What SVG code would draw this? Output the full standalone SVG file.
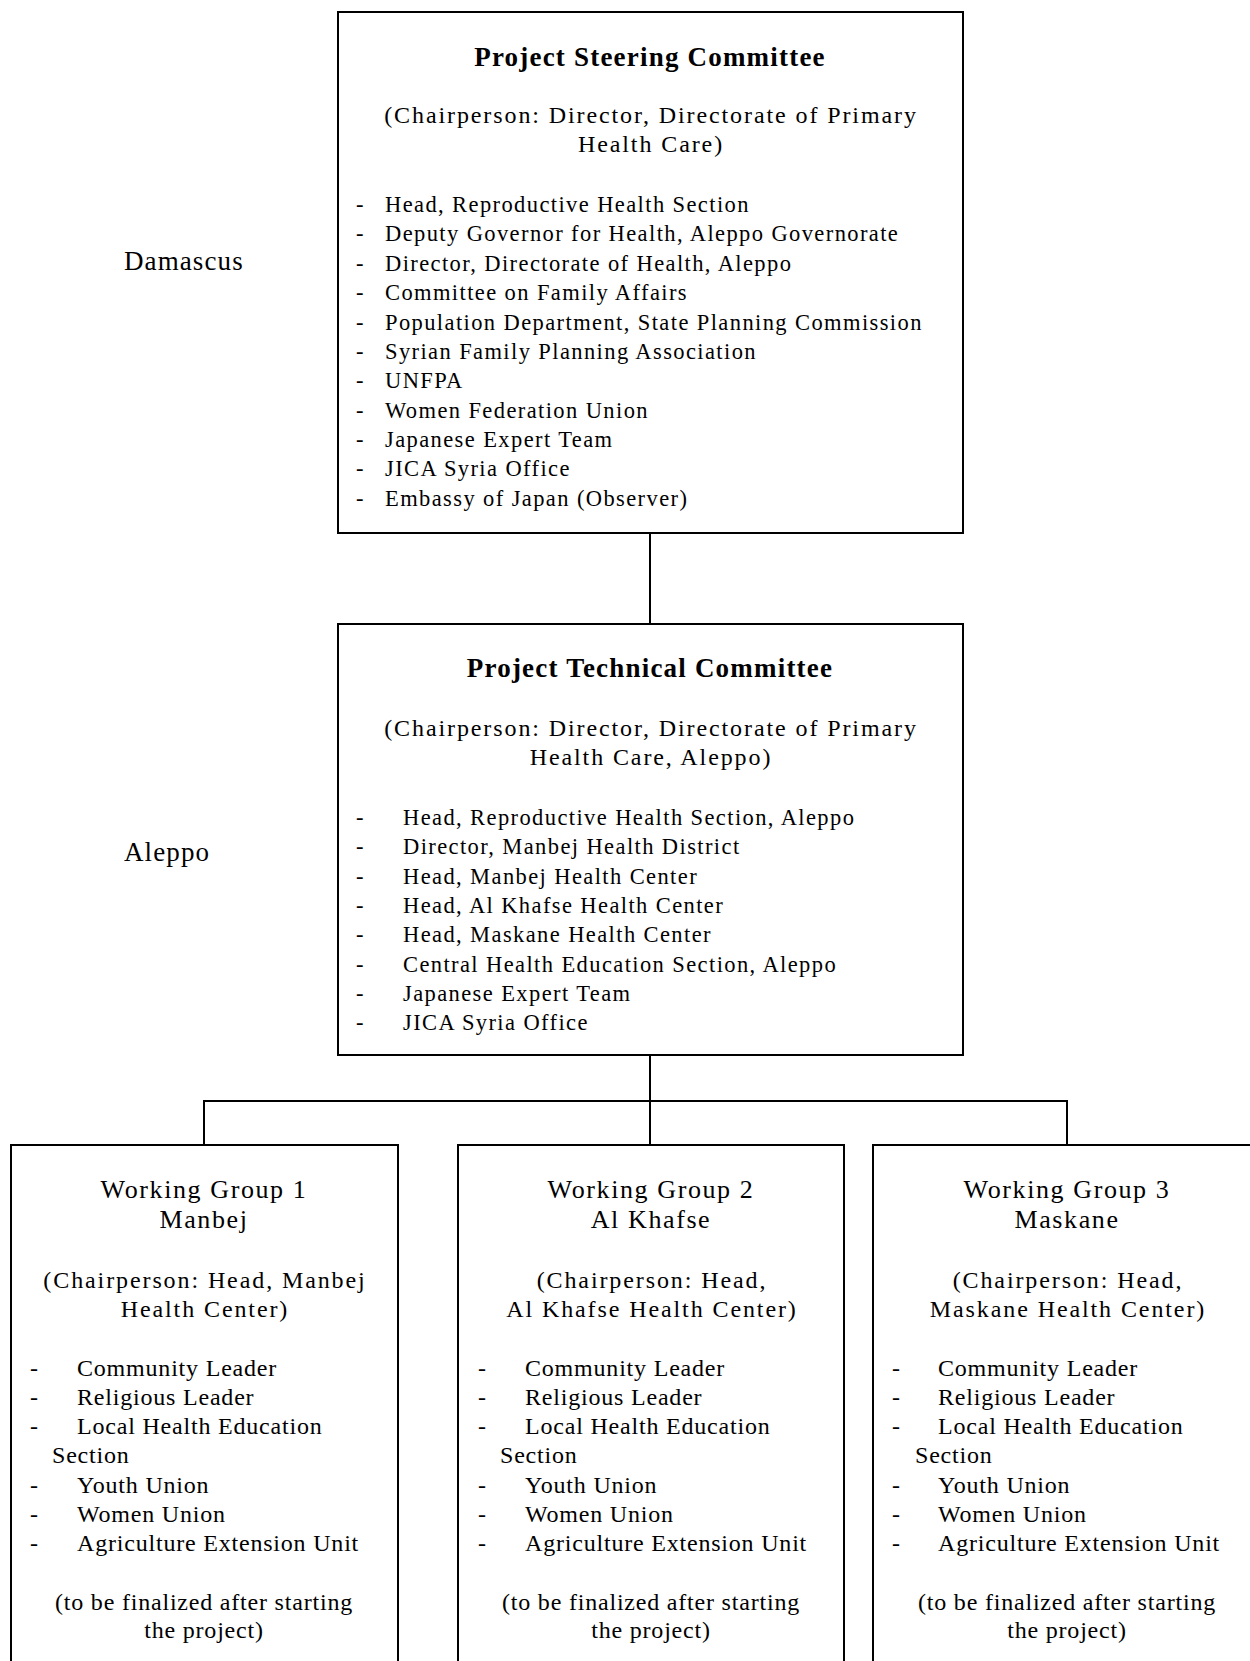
<svg xmlns="http://www.w3.org/2000/svg" width="1250" height="1661" viewBox="0 0 1250 1661">
<style>
text{font-family:"Liberation Serif","Times New Roman",serif;fill:#000}
.box{fill:#fff;stroke:#000;stroke-width:2}
.ln{stroke:#000;stroke-width:2;fill:none}
.ttl{font-size:27px;font-weight:bold;letter-spacing:1.2px;text-anchor:middle}
.ch{font-size:24px;letter-spacing:1.9px;text-anchor:middle}
.li{font-size:22.5px;letter-spacing:1.4px}
.wg{font-size:26px;letter-spacing:1.6px;text-anchor:middle}
.bl{font-size:24px;letter-spacing:0.8px}
.fin{font-size:24px;letter-spacing:0.8px;text-anchor:middle}
.loc{font-size:27px;letter-spacing:1.1px}
</style>
<rect width="1250" height="1661" fill="#fff"/>
<g id="connectors">
<line class="ln" x1="650" y1="533" x2="650" y2="624"/>
<line class="ln" x1="650" y1="1055" x2="650" y2="1145"/>
<polyline class="ln" points="204,1145 204,1101 1067,1101 1067,1145"/>
</g>
<g id="label-damascus"><text class="loc" x="124" y="270">Damascus</text></g>
<g id="label-aleppo"><text class="loc" x="124" y="861">Aleppo</text></g>
<g id="steering">
<rect class="box" x="338" y="12" width="625" height="521"/>
<text class="ttl" x="650" y="66">Project Steering Committee</text>
<text class="ch" x="651" y="123">(Chairperson: Director, Directorate of Primary</text>
<text class="ch" x="651" y="152">Health Care)</text>
<g class="li">
<text x="356" y="212">-</text><text x="385" y="212">Head, Reproductive Health Section</text>
<text x="356" y="241">-</text><text x="385" y="241">Deputy Governor for Health, Aleppo Governorate</text>
<text x="356" y="271">-</text><text x="385" y="271">Director, Directorate of Health, Aleppo</text>
<text x="356" y="300">-</text><text x="385" y="300">Committee on Family Affairs</text>
<text x="356" y="330">-</text><text x="385" y="330">Population Department, State Planning Commission</text>
<text x="356" y="359">-</text><text x="385" y="359">Syrian Family Planning Association</text>
<text x="356" y="388">-</text><text x="385" y="388">UNFPA</text>
<text x="356" y="418">-</text><text x="385" y="418">Women Federation Union</text>
<text x="356" y="447">-</text><text x="385" y="447">Japanese Expert Team</text>
<text x="356" y="476">-</text><text x="385" y="476">JICA Syria Office</text>
<text x="356" y="506">-</text><text x="385" y="506">Embassy of Japan (Observer)</text>
</g>
</g>
<g id="technical">
<rect class="box" x="338" y="624" width="625" height="431"/>
<text class="ttl" x="650" y="677">Project Technical Committee</text>
<text class="ch" x="651" y="736">(Chairperson: Director, Directorate of Primary</text>
<text class="ch" x="651" y="765">Health Care, Aleppo)</text>
<g class="li">
<text x="356" y="825">-</text><text x="403" y="825">Head, Reproductive Health Section, Aleppo</text>
<text x="356" y="854">-</text><text x="403" y="854">Director, Manbej Health District</text>
<text x="356" y="884">-</text><text x="403" y="884">Head, Manbej Health Center</text>
<text x="356" y="913">-</text><text x="403" y="913">Head, Al Khafse Health Center</text>
<text x="356" y="942">-</text><text x="403" y="942">Head, Maskane Health Center</text>
<text x="356" y="972">-</text><text x="403" y="972">Central Health Education Section, Aleppo</text>
<text x="356" y="1001">-</text><text x="403" y="1001">Japanese Expert Team</text>
<text x="356" y="1030">-</text><text x="403" y="1030">JICA Syria Office</text>
</g>
</g>
<g id="wg1">
<rect class="box" x="11" y="1145" width="387" height="530"/>
<text class="wg" x="204" y="1198">Working Group 1</text>
<text class="wg" x="204" y="1228">Manbej</text>
<text class="ch" x="205" y="1288">(Chairperson: Head, Manbej</text>
<text class="ch" x="205" y="1317">Health Center)</text>
<g class="bl">
<text x="30" y="1376">-</text><text x="77" y="1376">Community Leader</text>
<text x="30" y="1405">-</text><text x="77" y="1405">Religious Leader</text>
<text x="30" y="1434">-</text><text x="77" y="1434">Local Health Education</text>
<text x="52" y="1463">Section</text>
<text x="30" y="1493">-</text><text x="77" y="1493">Youth Union</text>
<text x="30" y="1522">-</text><text x="77" y="1522">Women Union</text>
<text x="30" y="1551">-</text><text x="77" y="1551">Agriculture Extension Unit</text>
</g>
<text class="fin" x="204" y="1610">(to be finalized after starting</text>
<text class="fin" x="204" y="1638">the project)</text>
</g>
<g id="wg2">
<rect class="box" x="458" y="1145" width="386" height="530"/>
<text class="wg" x="651" y="1198">Working Group 2</text>
<text class="wg" x="651" y="1228">Al Khafse</text>
<text class="ch" x="652" y="1288">(Chairperson: Head,</text>
<text class="ch" x="652" y="1317">Al Khafse Health Center)</text>
<g class="bl">
<text x="478" y="1376">-</text><text x="525" y="1376">Community Leader</text>
<text x="478" y="1405">-</text><text x="525" y="1405">Religious Leader</text>
<text x="478" y="1434">-</text><text x="525" y="1434">Local Health Education</text>
<text x="500" y="1463">Section</text>
<text x="478" y="1493">-</text><text x="525" y="1493">Youth Union</text>
<text x="478" y="1522">-</text><text x="525" y="1522">Women Union</text>
<text x="478" y="1551">-</text><text x="525" y="1551">Agriculture Extension Unit</text>
</g>
<text class="fin" x="651" y="1610">(to be finalized after starting</text>
<text class="fin" x="651" y="1638">the project)</text>
</g>
<g id="wg3">
<rect class="box" x="873" y="1145" width="390" height="530"/>
<text class="wg" x="1067" y="1198">Working Group 3</text>
<text class="wg" x="1067" y="1228">Maskane</text>
<text class="ch" x="1068" y="1288">(Chairperson: Head,</text>
<text class="ch" x="1068" y="1317">Maskane Health Center)</text>
<g class="bl">
<text x="892" y="1376">-</text><text x="938" y="1376">Community Leader</text>
<text x="892" y="1405">-</text><text x="938" y="1405">Religious Leader</text>
<text x="892" y="1434">-</text><text x="938" y="1434">Local Health Education</text>
<text x="915" y="1463">Section</text>
<text x="892" y="1493">-</text><text x="938" y="1493">Youth Union</text>
<text x="892" y="1522">-</text><text x="938" y="1522">Women Union</text>
<text x="892" y="1551">-</text><text x="938" y="1551">Agriculture Extension Unit</text>
</g>
<text class="fin" x="1067" y="1610">(to be finalized after starting</text>
<text class="fin" x="1067" y="1638">the project)</text>
</g>
</svg>
